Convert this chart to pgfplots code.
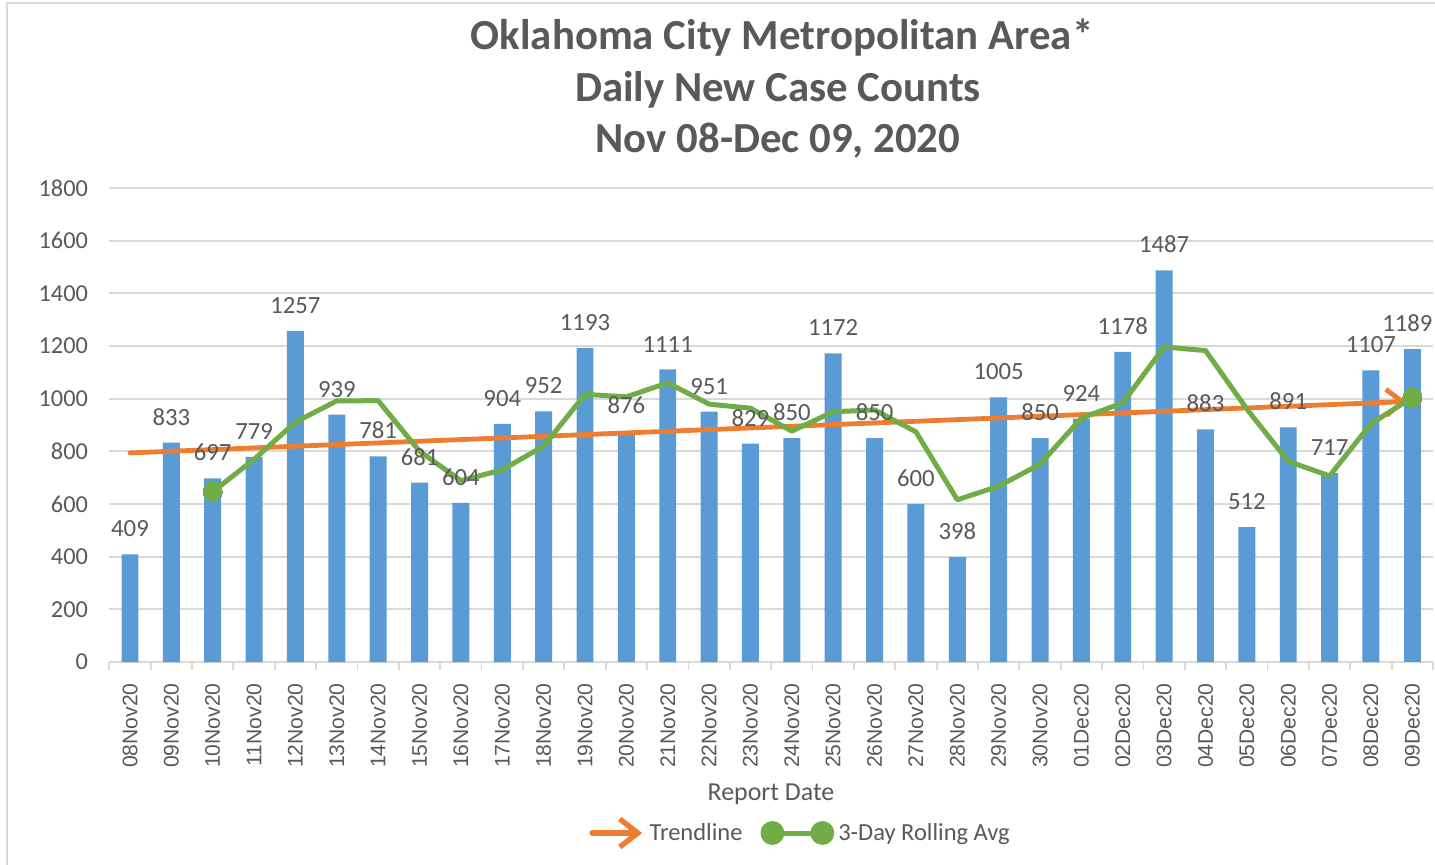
\documentclass[border=0pt]{standalone}
\usepackage{fontspec}
\setmainfont{Carlito}
\newfontfamily\arialf{Liberation Sans}
\usepackage{pgfplots}
\pgfplotsset{compat=1.18}
\usetikzlibrary{arrows.meta}
\definecolor{barblue}{HTML}{5B9BD5}
\definecolor{trendorange}{HTML}{ED7D31}
\definecolor{avggreen}{HTML}{70AD47}
\definecolor{txtgray}{HTML}{595959}
\definecolor{gridgray}{HTML}{D9D9D9}
\begin{document}
\begin{tikzpicture}
\useasboundingbox (0,0) rectangle (717.5bp,432.5bp);
\fill[white] (0,0) rectangle (717.5bp,432.5bp);
\draw[gridgray, line width=1bp] (3.5bp,-2bp) -- (3.5bp,431bp) -- (720bp,431bp);
\node[anchor=base, font=\bfseries\fontsize{21.5}{25}\selectfont, text=txtgray] at (391bp,407.5bp) {Oklahoma City Metropolitan Area*};
\node[anchor=base, font=\bfseries\fontsize{21.5}{25}\selectfont, text=txtgray] at (389bp,381.5bp) {Daily New Case Counts};
\node[anchor=base, font=\bfseries\fontsize{21.5}{25}\selectfont, text=txtgray] at (389bp,356bp) {Nov 08-Dec 09, 2020};
\node[anchor=base, font=\fontsize{13}{15}\selectfont, text=txtgray] at (385.5bp,32.5bp) {Report Date};
\begin{axis}[
  at={(54.65bp,101.5bp)}, anchor=south west,
  scale only axis, width=661.85bp, height=237bp,
  xmin=-0.5, xmax=31.5, ymin=0, ymax=1800,
  clip=false,
  axis x line*=bottom, axis y line*=left,
  y axis line style={draw=none},
  x axis line style={draw=gridgray, line width=0.9bp},
  ytick={0,200,...,1800},
  ymajorgrids, major grid style={draw=gridgray, line width=0.9bp},
  xtick={0,...,31},
  xticklabels={08Nov20,09Nov20,10Nov20,11Nov20,12Nov20,13Nov20,14Nov20,15Nov20,16Nov20,17Nov20,18Nov20,19Nov20,20Nov20,21Nov20,22Nov20,23Nov20,24Nov20,25Nov20,26Nov20,27Nov20,28Nov20,29Nov20,30Nov20,01Dec20,02Dec20,03Dec20,04Dec20,05Dec20,06Dec20,07Dec20,08Dec20,09Dec20},
  minor xtick={-0.5,0.5,...,31.5},
  major tick length=0pt, minor tick length=4bp, tick align=outside,
  minor tick style={draw=gridgray, line width=0.9bp},
  major tick style={draw=none},
  /pgf/number format/assume math mode=true,
  /pgf/number format/1000 sep={},
  yticklabel style={font=\fontsize{12.2}{14}\selectfont, text=txtgray, inner sep=0pt, anchor=east, xshift=-10.5bp},
  xticklabel style={font=\arialf\fontsize{10.6}{12}\selectfont, text=txtgray, inner sep=0pt, yshift=-10.5bp, rotate=90, anchor=east},
  legend style={at={(0.5230,-0.3608)}, anchor=center, draw=none, fill=none, legend columns=2,
    font=\fontsize{12.3}{15}\selectfont, text=txtgray,
    /tikz/every even column/.append style={column sep=7bp}},
]
\addplot[ybar, bar width=0.41, fill=barblue, draw=none, forget plot,
  nodes near coords,
  every node near coord/.append style={font=\fontsize{12.4}{14}\selectfont, text=txtgray, anchor=south, inner sep=0pt, yshift=8.5bp}]
coordinates {
(0,409) (1,833) (2,697) (3,779) (4,1257) (5,939) (6,781) (7,681) (8,604) (9,904)
(10,952) (11,1193) (12,876) (13,1111) (14,951) (15,829) (16,850) (17,1172) (18,850) (19,600)
(20,398) (21,1005) (22,850) (23,924) (24,1178) (25,1487) (26,883) (27,512) (28,891) (29,717)
(30,1107)};
\addplot[ybar, bar width=0.41, fill=barblue, draw=none, forget plot,
  nodes near coords,
  every node near coord/.append style={font=\fontsize{12.4}{14}\selectfont, text=txtgray, anchor=south, inner sep=0pt, yshift=8.5bp, xshift=-2.5bp}]
coordinates {(31,1189)};
\addplot[trendorange, line width=2.4bp, line cap=round, -{Straight Barb[length=8bp,width=13bp]},
  legend image code/.code={\draw[trendorange, line width=2.7bp, line cap=round, -{Straight Barb[length=9bp,width=14bp]}] (0bp,0bp) -- (25bp,0bp);}]
coordinates {(0,794) (30.85,989)};
\addlegendentry{Trendline}
\addplot[avggreen, line width=2.5bp, line join=round, mark=*, mark size=4.8bp, mark indices={1,30},
  mark options={fill=avggreen, draw=avggreen, line width=0pt},
  legend image code/.code={\draw[avggreen, line width=2.5bp] (0bp,0bp) -- (25bp,0bp); \fill[avggreen] (0bp,0bp) circle (4.7bp); \fill[avggreen] (25bp,0bp) circle (4.7bp);}]
coordinates {
(2,646.3) (3,769.7) (4,911.0) (5,991.7) (6,992.3) (7,800.3) (8,688.7) (9,729.7) (10,820.0) (11,1016.3)
(12,1007.0) (13,1060.0) (14,979.3) (15,963.7) (16,876.7) (17,950.3) (18,957.3) (19,874.0) (20,616.0) (21,667.7)
(22,751.0) (23,926.3) (24,984.0) (25,1196.3) (26,1182.7) (27,960.7) (28,762.0) (29,706.7) (30,905.0) (31,1004.3)};
\addlegendentry{3-Day Rolling Avg}
\end{axis}
\end{tikzpicture}
\end{document}
